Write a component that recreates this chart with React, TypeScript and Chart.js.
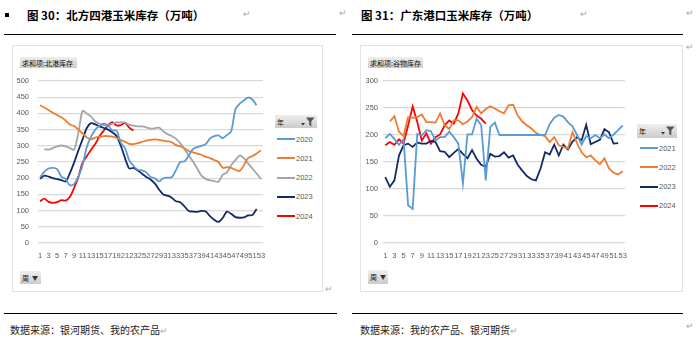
import React, { useEffect, useRef } from "react";
import { Chart, registerables } from "chart.js";
Chart.register(...registerables);

// ---------- data ----------
const weeks = Array.from({ length: 53 }, (_, i) => String(i + 1));

const northYears = ["2020", "2021", "2022", "2023", "2024"];
const north2020 = [203,220,230,232,228,205,198,178,182,205,240,296,328,350,362,368,363,347,347,310,292,255,238,226,224,218,204,200,190,200,202,203,225,250,252,270,290,296,300,305,322,330,332,324,333,345,412,430,440,449,443,425];
const north2021 = [425,418,410,402,395,388,378,366,361,350,338,326,320,325,328,330,330,328,324,318,312,306,305,308,312,316,318,320,318,316,314,311,302,298,292,284,280,276,272,266,262,256,250,232,234,232,226,222,240,262,268,276,286];
const north2022 = [null,290,288,293,298,301,298,293,288,340,408,400,390,375,368,364,362,368,372,372,372,365,362,360,360,357,353,354,356,345,336,330,322,308,290,270,252,230,208,198,193,191,189,210,218,240,256,270,262,245,230,214,198];
const north2023 = [198,208,205,200,197,194,190,215,248,285,320,355,370,366,360,355,350,342,330,300,262,230,232,224,214,204,196,184,165,150,146,140,129,126,113,99,97,96,99,97,83,72,65,77,97,90,80,78,79,85,86,105];
const north2024 = [129,137,127,124,126,132,131,142,170,203,248,268,288,306,330,347,363,373,363,364,371,356,347];

const southYears = ["2021", "2022", "2023", "2024"];
const south2021 = [194,202,193,182,192,70,63,202,199,209,207,190,196,196,206,196,184,110,201,201,230,218,116,215,223,200,200,200,200,200,200,200,200,200,200,200,220,232,237,234,224,216,200,182,198,194,200,194,201,194,201,209,218];
const south2022 = [null,225,235,206,198,233,232,233,238,224,224,223,240,218,211,227,227,220,225,233,252,240,248,253,249,244,240,255,256,236,225,218,212,204,200,198,187,196,181,178,175,205,185,168,159,162,153,146,157,138,130,127,133];
const south2023 = [122,104,116,162,181,184,178,186,184,184,189,187,170,169,159,167,174,165,157,172,156,145,141,165,160,161,168,158,162,145,134,124,118,116,138,168,164,182,162,182,173,188,196,190,219,183,187,191,211,205,184,185];
const south2024 = [181,187,182,192,184,218,253,224,190,203,184,196,201,218,227,221,240,277,264,246,236,230,221];

const northTicks = [0, 50, 100, 150, 200, 250, 300, 350, 400, 450, 500];
const southTicks = [0, 50, 100, 150, 200, 250, 300];

// ---------- styles ----------
const C_BLUE = "#5B9BD5";
const C_ORANGE = "#ED7D31";
const C_GRAY = "#A5A5A5";
const C_NAVY = "#112B66";
const C_RED = "#FF0000";

const CJK = '"Noto Sans CJK SC", "Noto Sans", sans-serif';
const LAT = '"Liberation Sans", Arial, sans-serif';
const CLEAR = "rgba(0,0,0,0)";

type Series = { label: string; data: (number | null)[]; color: string };

function buildConfig(series: Series[], ticks: number[], yAxisWidth: number, yPad: number, tension: number): any {
  const yMax = ticks[ticks.length - 1];
  const step = ticks[1] - ticks[0];
  return {
    type: "line",
    data: {
      labels: weeks,
      datasets: series.map((s) => ({
        label: s.label,
        data: s.data,
        borderColor: s.color,
        backgroundColor: s.color,
        borderWidth: 1.8,
        pointRadius: 0,
        pointHoverRadius: 0,
        tension,
        fill: false,
        spanGaps: false,
      })),
    },
    options: {
      responsive: false,
      animation: false,
      devicePixelRatio: 1,
      layout: { padding: { top: 6, right: 3, left: 0, bottom: 0 } },
      plugins: { legend: { display: false }, tooltip: { enabled: false } },
      scales: {
        x: {
          type: "category",
          offset: true,
          grid: { display: true, drawOnChartArea: false, drawTicks: true, tickLength: 8, color: CLEAR, tickColor: CLEAR },
          border: { display: false },
          ticks: {
            autoSkip: false,
            maxRotation: 0,
            minRotation: 0,
            padding: 0,
            color: "#595959",
            font: { family: LAT, size: 7.5 },
            callback: (v: any, i: number) => (i % 2 === 0 ? weeks[i] : ""),
          },
          afterFit: (scale: any) => {
            scale.height = 22;
          },
        },
        y: {
          min: 0,
          max: yMax,
          grid: { color: "#D9D9D9", lineWidth: 1.2, drawTicks: true, tickLength: yPad, tickColor: CLEAR },
          border: { display: false },
          ticks: {
            stepSize: step,
            padding: 0,
            color: "#595959",
            font: { family: LAT, size: 7.5 },
          },
          afterFit: (scale: any) => {
            scale.width = yAxisWidth;
          },
        },
      },
    },
  };
}

function LineChart(props: { left: number; top: number; width: number; height: number; series: Series[]; ticks: number[]; yAxisWidth: number; yPad: number; tension: number }) {
  const ref = useRef<HTMLCanvasElement>(null);
  useEffect(() => {
    if (!ref.current) return;
    const chart = new Chart(ref.current, buildConfig(props.series, props.ticks, props.yAxisWidth, props.yPad, props.tension));
    return () => chart.destroy();
  }, []);
  return (
    <canvas
      ref={ref}
      width={props.width}
      height={props.height}
      style={{ position: "absolute", left: props.left, top: props.top, width: props.width, height: props.height }}
    />
  );
}

const abs = (left: number, top: number, extra: any = {}) => ({ position: "absolute" as const, left, top, ...extra });

function Ret(props: { left: number; top: number }) {
  return <div style={abs(props.left, props.top, { fontSize: 9, color: "#A8A8A8", fontFamily: LAT, lineHeight: "10px" })}>↵</div>;
}

function Btn(props: { left: number; top: number; width: number; height: number; children: any }) {
  return (
    <div
      style={abs(props.left, props.top, {
        width: props.width,
        height: props.height,
        background: "linear-gradient(#EFEFEF, #CBCBCB)",
        boxSizing: "border-box",
        display: "flex",
        alignItems: "center",
        paddingLeft: 2,
        fontFamily: CJK,
        fontSize: 7,
        color: "#111",
        whiteSpace: "nowrap",
        lineHeight: "8px",
      })}
    >
      {props.children}
    </div>
  );
}

function Arrow() {
  return <span style={{ fontSize: 6, marginLeft: 3, color: "#333" }}>▼</span>;
}

function Funnel(props: { left: number; top: number }) {
  return (
    <svg style={abs(props.left, props.top)} width="14" height="10" viewBox="0 0 14 10">
      <path d="M0 6 L4 6 L2 8.5 Z" fill="#333" />
      <path d="M5 0.5 L13.5 0.5 L10.3 4.5 L10.3 9.5 L8.2 8 L8.2 4.5 Z" fill="#555" />
    </svg>
  );
}

function Legend(props: { left: number; top: number; gap: number; series: Series[] }) {
  return (
    <>
      {props.series.map((s, i) => (
        <div key={s.label} style={abs(props.left, props.top + i * props.gap - 5, { height: 10, display: "flex", alignItems: "center" })}>
          <div style={{ width: 18, height: 2, background: s.color }} />
          <span style={{ fontFamily: LAT, fontSize: 7.5, color: "#595959", marginLeft: 1 }}>{s.label}</span>
        </div>
      ))}
    </>
  );
}

export default function App() {
  const northSeries: Series[] = [
    { label: northYears[0], data: north2020, color: C_BLUE },
    { label: northYears[1], data: north2021, color: C_ORANGE },
    { label: northYears[2], data: north2022, color: C_GRAY },
    { label: northYears[3], data: north2023, color: C_NAVY },
    { label: northYears[4], data: north2024, color: C_RED },
  ];
  const southSeries: Series[] = [
    { label: southYears[0], data: south2021, color: C_BLUE },
    { label: southYears[1], data: south2022, color: C_ORANGE },
    { label: southYears[2], data: south2023, color: C_NAVY },
    { label: southYears[3], data: south2024, color: C_RED },
  ];
  const titleStyle = { fontFamily: CJK, fontWeight: 700, fontSize: 11.5, color: "#000", lineHeight: "14px", whiteSpace: "nowrap" as const };
  const srcStyle = { fontFamily: CJK, fontSize: 10, color: "#222", lineHeight: "12px", whiteSpace: "nowrap" as const };
  return (
    <div style={{ position: "absolute", left: 0, top: 0, width: 698, height: 351, background: "#fff", overflow: "hidden" }}>
      {/* titles */}
      <div style={abs(5, 13, { width: 4, height: 4, background: "#000" })} />
      <div style={abs(27, 8, titleStyle)}>图 30：北方四港玉米库存（万吨）</div>
      <Ret left={243} top={9} />
      <Ret left={339} top={8} />
      <div style={abs(361, 8, titleStyle)}>图 31：广东港口玉米库存（万吨）</div>
      <Ret left={580} top={9} />
      <Ret left={686} top={8} />
      <Ret left={686} top={42} />

      {/* rules */}
      <div style={abs(4, 34, { width: 332, height: 1, background: "#000" })} />
      <div style={abs(352, 34, { width: 331, height: 1, background: "#000" })} />
      <div style={abs(4, 313, { width: 333, height: 1, background: "#000" })} />
      <div style={abs(352, 313, { width: 331, height: 1, background: "#000" })} />

      {/* frames */}
      <div style={abs(12, 45, { width: 311, height: 247, border: "1px solid #E3E3E3", boxSizing: "border-box" })} />
      <div style={abs(360, 45, { width: 323, height: 247, border: "1px solid #E3E3E3", boxSizing: "border-box" })} />
      <Ret left={325} top={284} />

      {/* north chart */}
      <Btn left={20} top={57} width={57} height={11}>求和项:北港库存</Btn>
      <LineChart left={14} top={75} width={252} height={190} series={northSeries} ticks={northTicks} yAxisWidth={24} yPad={9} tension={0.3} />
      <Btn left={275} top={115} width={42} height={13}>年</Btn>
      <Funnel left={301} top={117} />
      <Legend left={277} top={139} gap={19.25} series={northSeries} />
      <Btn left={20} top={271} width={21} height={13}>周<Arrow /></Btn>

      {/* south chart */}
      <Btn left={368} top={57} width={55} height={11}>求和项:谷物库存</Btn>
      <LineChart left={360} top={75} width={268} height={190} series={southSeries} ticks={southTicks} yAxisWidth={23} yPad={5} tension={0} />
      <Btn left={637} top={124} width={40} height={14}>年</Btn>
      <Funnel left={661} top={126} />
      <Legend left={640} top={148} gap={19.3} series={southSeries} />
      <Btn left={368} top={270} width={20} height={14}>周<Arrow /></Btn>

      {/* sources */}
      <div style={abs(10, 324, srcStyle)}>数据来源：银河期货、我的农产品<span style={{ color: "#A8A8A8", fontSize: 9 }}>↵</span></div>
      <div style={abs(360, 324, srcStyle)}>数据来源：我的农产品、银河期货<span style={{ color: "#A8A8A8", fontSize: 9 }}>↵</span></div>
      <Ret left={686} top={321} />
    </div>
  );
}
